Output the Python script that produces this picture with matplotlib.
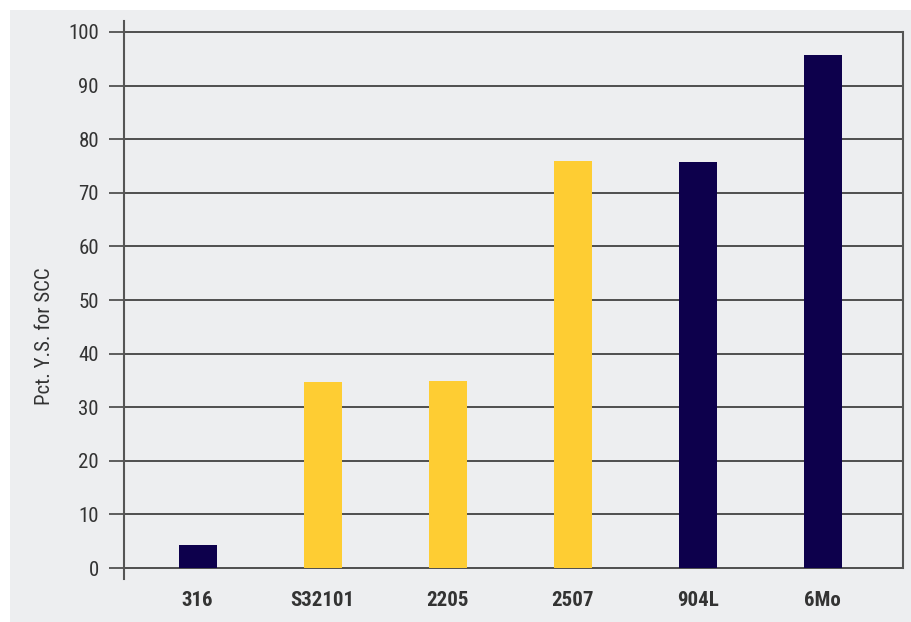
import numpy as np
import matplotlib.pyplot as plt
from matplotlib.patches import Rectangle

grades = ['316', 'S32101', '2205', '2507', '904L', '6Mo']
pct_ys = [4.3, 34.7, 34.9, 76.0, 75.8, 95.8]
is_duplex = [False, True, True, True, False, False]
yticks = [0, 10, 20, 30, 40, 50, 60, 70, 80, 90, 100]

navy = '#0d004c'
yellow = '#fecd33'
bg = '#edeef0'

plt.rcParams['font.family'] = ['Roboto Condensed', 'DejaVu Sans']

fig = plt.figure(figsize=(9.12, 6.22), dpi=100)
fig.patches.append(Rectangle((10 / 912, 0), 1, 612 / 622, transform=fig.transFigure,
                             facecolor=bg, edgecolor='none', zorder=-10))

ax = fig.add_axes([124 / 912, 43 / 622, 779 / 912, 558 / 622])
ax.patch.set_alpha(0)

index = np.arange(len(grades))
colors = [yellow if d else navy for d in is_duplex]
ax.bar(index, pct_ys, 0.304, color=colors, zorder=3)

ax.set_xlim(-0.588, 5.641)
ax.set_ylim(-2.05, 102.05)
ax.set_yticks(yticks)
ax.set_yticklabels([str(t) for t in yticks], fontsize=15, color='#333333')
ax.set_xticks(index)
ax.set_xticklabels(grades, fontsize=15, fontweight='bold', color='#333333')
ax.tick_params(axis='x', length=0, pad=9)
ax.tick_params(axis='y', length=11, width=1.2, color='#444444', pad=7)

for t in yticks:
    ax.axhline(t, color='#333333', lw=1.2, zorder=1)

for s in ['top', 'bottom']:
    ax.spines[s].set_visible(False)
ax.spines['left'].set_color('#555555')
ax.spines['left'].set_linewidth(1.5)
ax.spines['right'].set_color('#555555')
ax.spines['right'].set_linewidth(1.5)
ax.spines['right'].set_bounds(0, 100)

fig.text(45 / 912, 286 / 622, 'Pct. Y.S. for SCC', rotation=90, ha='center', va='center',
         fontsize=15, color='#333333')

plt.savefig('out.png', dpi=100)
